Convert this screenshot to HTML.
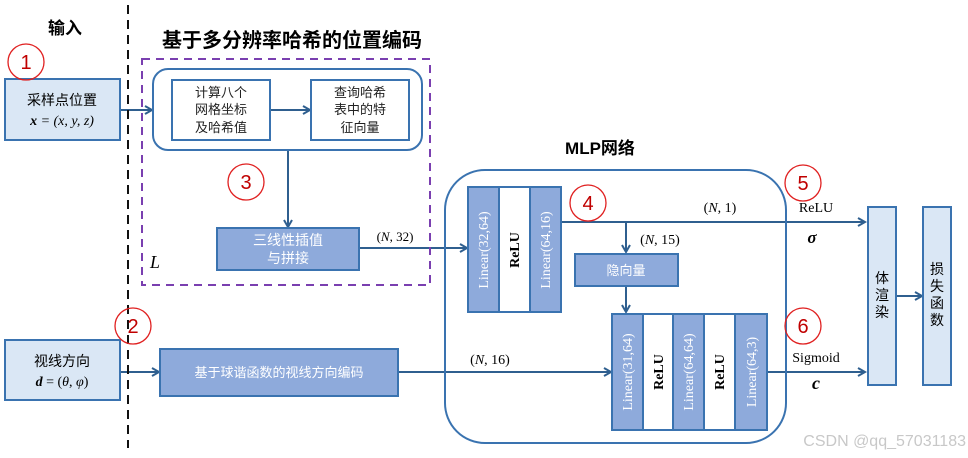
<!DOCTYPE html>
<html><head><meta charset="utf-8"><style>
html,body{margin:0;padding:0;background:#fff;}
svg{display:block;}
text{font-family:"Liberation Sans","Noto Sans CJK SC",sans-serif;}
text.s,.s text{font-family:"Liberation Serif","Noto Serif CJK SC",serif;}
</style></head><body>
<svg width="968" height="458" viewBox="0 0 968 458" xmlns="http://www.w3.org/2000/svg">
<defs>
<marker id="a" markerWidth="10" markerHeight="10" refX="8" refY="5" orient="auto" markerUnits="userSpaceOnUse">
<path d="M1,1 L8,5 L1,9" fill="none" stroke="#2f5f8f" stroke-width="2"/></marker>
</defs>
<g fill="none" stroke="#2f5f8f" stroke-width="2">
<line x1="120" y1="110" x2="152" y2="110" marker-end="url(#a)"/>
<line x1="270" y1="110" x2="310" y2="110" marker-end="url(#a)"/>
<line x1="288" y1="150" x2="288" y2="227" marker-end="url(#a)"/>
<line x1="359" y1="248" x2="467" y2="248" marker-end="url(#a)"/>
<line x1="561" y1="222" x2="865" y2="222" marker-end="url(#a)"/>
<line x1="626" y1="222" x2="626" y2="252" marker-end="url(#a)"/>
<line x1="626" y1="286" x2="626" y2="312" marker-end="url(#a)"/>
<line x1="398" y1="372" x2="611" y2="372" marker-end="url(#a)"/>
<line x1="767" y1="372" x2="865" y2="372" marker-end="url(#a)"/>
<line x1="120" y1="372" x2="159" y2="372" marker-end="url(#a)"/>
<line x1="896" y1="296" x2="922" y2="296" marker-end="url(#a)"/>
</g>
<line x1="128" y1="5" x2="128" y2="448" stroke="#111" stroke-width="2" stroke-dasharray="9,6"/>
<text x="65" y="34" font-size="17" font-weight="bold" text-anchor="middle">输入</text>
<text x="292" y="47" font-size="20" font-weight="bold" text-anchor="middle">基于多分辨率哈希的位置编码</text>
<rect x="142" y="59" width="288" height="226" fill="none" stroke="#7a3fb0" stroke-width="2" stroke-dasharray="8,6"/>
<rect x="153" y="69" width="269" height="81" rx="15" fill="none" stroke="#3a73b0" stroke-width="2"/>
<rect x="172" y="80" width="98" height="60" fill="#fff" stroke="#3a73b0" stroke-width="2"/>
<rect x="311" y="80" width="98" height="60" fill="#fff" stroke="#3a73b0" stroke-width="2"/>
<g font-size="13" text-anchor="middle" fill="#222">
<text x="221" y="97">计算八个</text><text x="221" y="114">网格坐标</text><text x="221" y="132">及哈希值</text>
<text x="360" y="97">查询哈希</text><text x="360" y="114">表中的特</text><text x="360" y="132">征向量</text>
</g>
<rect x="5" y="79" width="115" height="61" fill="#dae7f5" stroke="#3a73b0" stroke-width="2"/>
<text x="62" y="105" font-size="14" text-anchor="middle">采样点位置</text>
<text x="62" y="125" font-size="14" text-anchor="middle" class="s" font-style="italic"><tspan font-weight="bold">x</tspan> = (x, y, z)</text>
<rect x="217" y="228" width="142" height="42" fill="#8eaadb" stroke="#3a73b0" stroke-width="2"/>
<text x="288" y="245" font-size="14" fill="#fff" text-anchor="middle">三线性插值</text>
<text x="288" y="263" font-size="14" fill="#fff" text-anchor="middle">与拼接</text>
<text x="150" y="268" font-size="18" class="s" font-style="italic">L</text>
<text x="395" y="241" font-size="13" class="s" text-anchor="middle">(<tspan font-style="italic">N</tspan>, 32)</text>
<text x="600" y="154" font-size="17" font-weight="bold" text-anchor="middle">MLP网络</text>
<rect x="445" y="170" width="341" height="273" rx="40" fill="none" stroke="#3a73b0" stroke-width="2"/>
<g stroke="#3a73b0" stroke-width="2">
<rect x="468" y="187" width="31" height="125" fill="#8eaadb"/>
<rect x="499" y="187" width="31" height="125" fill="#fff"/>
<rect x="530" y="187" width="31" height="125" fill="#8eaadb"/>
<rect x="612" y="314" width="31" height="116" fill="#8eaadb"/>
<rect x="643" y="314" width="30" height="116" fill="#fff"/>
<rect x="673" y="314" width="31" height="116" fill="#8eaadb"/>
<rect x="704" y="314" width="31" height="116" fill="#fff"/>
<rect x="735" y="314" width="32" height="116" fill="#8eaadb"/>
<rect x="575" y="254" width="103" height="32" fill="#8eaadb"/>
<rect x="868" y="207" width="28" height="178" fill="#dae7f5"/>
<rect x="923" y="207" width="28" height="178" fill="#dae7f5"/>
<rect x="160" y="349" width="238" height="47" fill="#8eaadb"/>
<rect x="5" y="340" width="115" height="60" fill="#dae7f5"/>
</g>
<g class="s" font-size="14" text-anchor="middle">
<text transform="translate(488,250) rotate(-90)" fill="#fff">Linear(32,64)</text>
<text transform="translate(519,250) rotate(-90)" font-weight="bold">ReLU</text>
<text transform="translate(550,250) rotate(-90)" fill="#fff">Linear(64,16)</text>
<text transform="translate(632,372) rotate(-90)" fill="#fff">Linear(31,64)</text>
<text transform="translate(663,372) rotate(-90)" font-weight="bold">ReLU</text>
<text transform="translate(693,372) rotate(-90)" fill="#fff">Linear(64,64)</text>
<text transform="translate(724,372) rotate(-90)" font-weight="bold">ReLU</text>
<text transform="translate(756,372) rotate(-90)" fill="#fff">Linear(64,3)</text>
<text x="720" y="212">(<tspan font-style="italic">N</tspan>, 1)</text>
<text x="660" y="244">(<tspan font-style="italic">N</tspan>, 15)</text>
<text x="490" y="364">(<tspan font-style="italic">N</tspan>, 16)</text>
<text x="816" y="212">ReLU</text>
<text x="812" y="243" font-size="17" font-style="italic" font-weight="bold">σ</text>
<text x="816" y="362">Sigmoid</text>
<text x="816" y="389" font-size="18" font-style="italic" font-weight="bold">c</text>
</g>
<text x="626" y="275" font-size="13" fill="#fff" text-anchor="middle">隐向量</text>
<text x="279" y="377" font-size="13" fill="#fff" text-anchor="middle">基于球谐函数的视线方向编码</text>
<text x="62" y="366" font-size="14" text-anchor="middle">视线方向</text>
<text x="62" y="386" font-size="14" text-anchor="middle" class="s"><tspan font-weight="bold" font-style="italic">d</tspan> = (<tspan font-style="italic">θ</tspan>, <tspan font-style="italic">φ</tspan>)</text>
<g font-size="14" text-anchor="middle">
<text x="882" y="283">体</text><text x="882" y="300">渲</text><text x="882" y="317">染</text>
<text x="937" y="274">损</text><text x="937" y="291">失</text><text x="937" y="308">函</text><text x="937" y="325">数</text>
</g>
<g fill="none" stroke="#e02020" stroke-width="1.3">
<circle cx="26" cy="62" r="18"/><circle cx="246" cy="182" r="18"/><circle cx="588" cy="203" r="18"/>
<circle cx="803" cy="183" r="18"/><circle cx="803" cy="326" r="18"/><circle cx="133" cy="326" r="18"/>
</g>
<g font-size="20" fill="#c00000" text-anchor="middle">
<text x="26" y="69">1</text><text x="246" y="189">3</text><text x="588" y="210">4</text>
<text x="803" y="190">5</text><text x="803" y="333">6</text><text x="133" y="333">2</text>
</g>
<text x="966" y="446" font-size="16" fill="#c8c8c8" text-anchor="end">CSDN @qq_57031183</text>
</svg>
</body></html>
